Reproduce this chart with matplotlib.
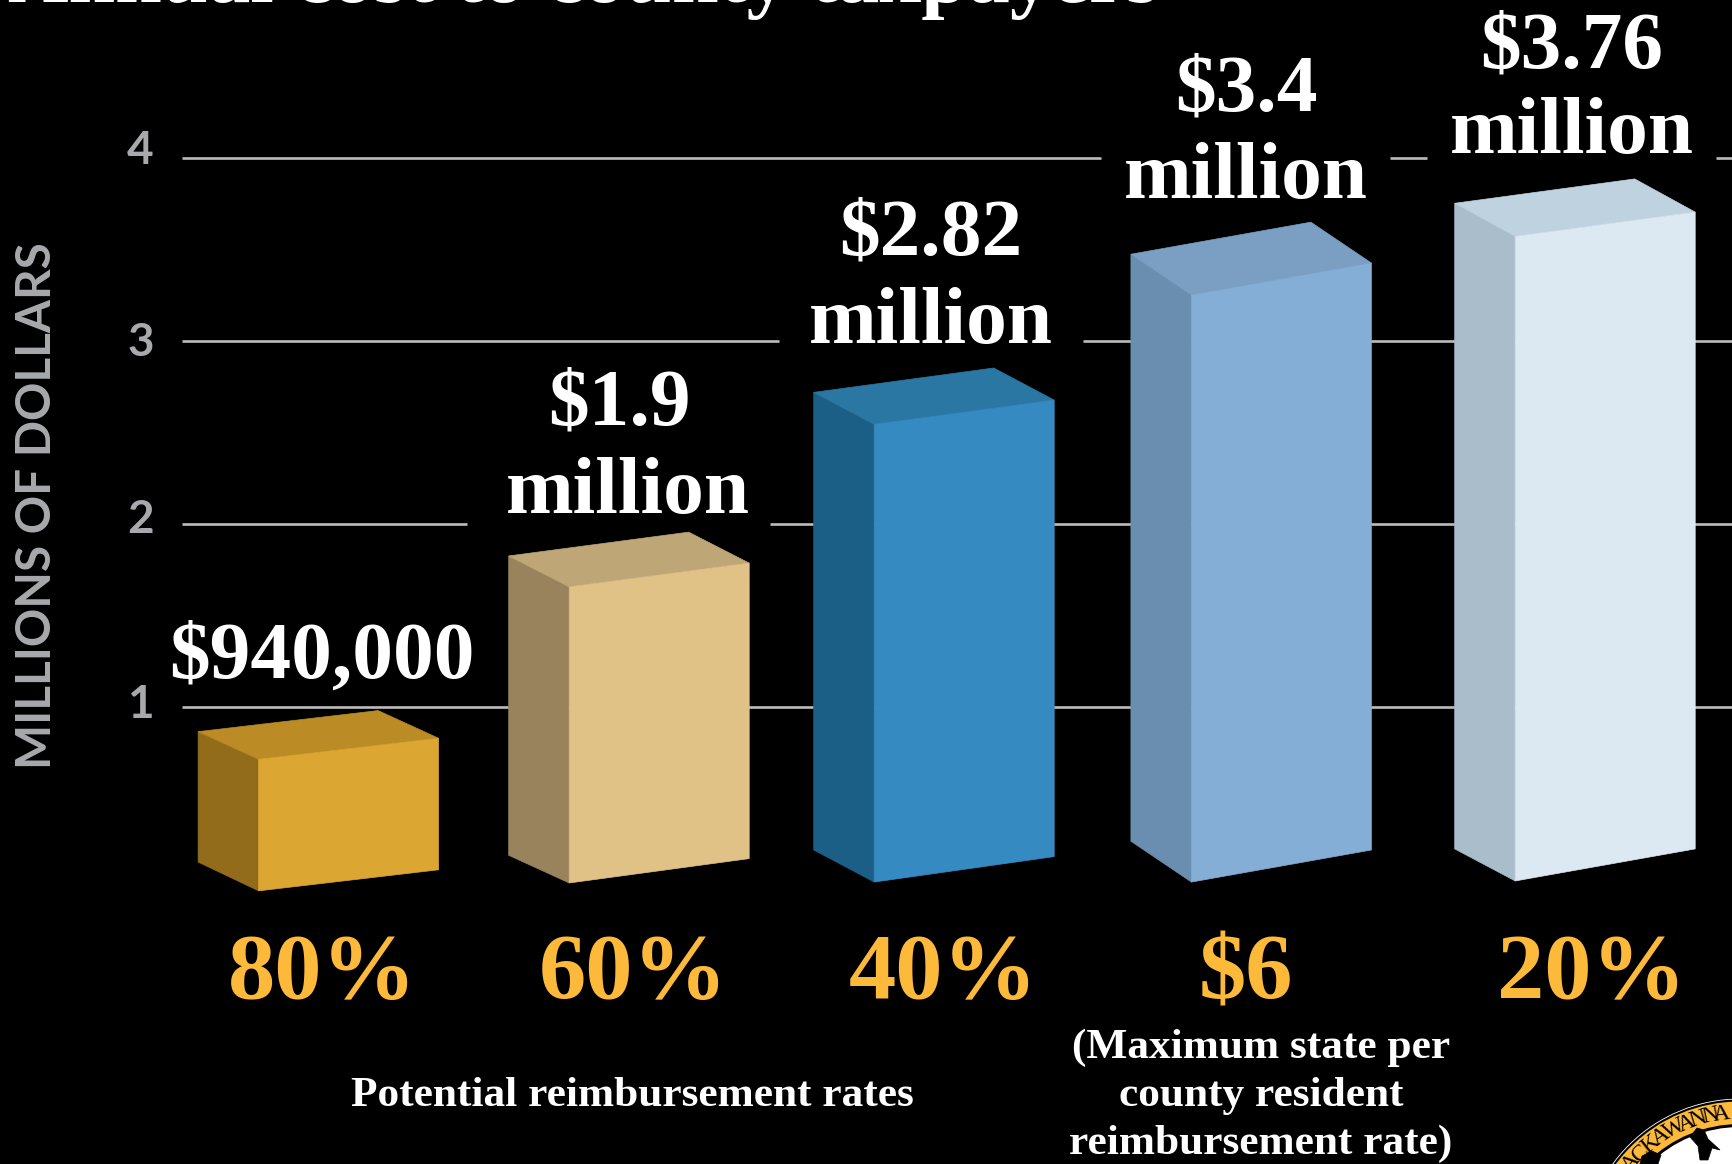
import matplotlib
matplotlib.use('Agg')
import matplotlib.pyplot as plt
import numpy as np
from matplotlib.patches import Circle, Polygon

W, H = 1733, 1164

# chart values
rates = ['80%', '60%', '40%', '$6', '20%']
amounts = ['$940,000', '$1.9', '$2.82', '$3.4', '$3.76']
bar_values = [0.94, 1.9, 2.82, 3.4, 3.76]
grid_values = [1, 2, 3, 4]

# the boxes are drawn in perspective, so their corners do not sit on the value.
front_top = [0.715, 1.656, 2.543, 3.249, 3.569]
front_base = [-0.003, 0.04, 0.045, 0.045, 0.051]
top_slant = [0.115, 0.13, 0.133, 0.175, 0.133]
base_slant = [0.115, 0.133, 0.139, 0.175, 0.175]
top_depth = [0.151, 0.169, 0.175, 0.223, 0.181]
base_depth = [0.157, 0.151, 0.175, 0.223, 0.175]

# colours: front, top, side
front_colors = ['#dca632', '#e0c287', '#358bc1', '#84aed5', '#dce8f2']
top_colors = ['#bb8c26', '#bea676', '#2b77a3', '#7a9fc3', '#bfd2e0']
side_colors = ['#926c1a', '#99835d', '#1b5f87', '#6a8eb0', '#a9bdca']

GOLD = '#fdb93a'
GREY = '#a8a9ad'
SERIF = 'Liberation Serif'

# y axis: 0 sits at pixel 890, one million is 183.2 pixels
PX = 183.2
y_top = 890.3 / PX
y_bottom = (890.3 - H) / PX

bar_x = [258.6, 569.2, 874.2, 1191.4, 1515.2]
bar_w = 180
bar_d = 60.5
amount_x = [322, 619, 931, 1246, 1572]
million_x = [None, 628, 931, 1246, 1572]
rate_x = [322, 633, 943, 1246, 1592]
amount_y = [1.16, 2.54, 3.47, 4.257, 4.49]
million_y = [None, 2.06, 2.99, 3.78, 4.026]
tick_lift = [0.012, 0.022, -0.012, 0.038]

fig = plt.figure(figsize=(W / 100, H / 100), dpi=100, facecolor='black')
ax = fig.add_axes([0, 0, 1, 1])
ax.set_facecolor('black')
ax.set_xlim(0, W)
ax.set_ylim(y_bottom, y_top)
ax.axis('off')

# grid lines stop short of the labels
grid_gaps = {1: [], 2: [(467, 770)], 3: [(779, 1083)], 4: [(1101, 1390), (1427, 1716)]}
for v, lift in zip(grid_values, tick_lift):
    start = 182
    for gap in grid_gaps[v]:
        ax.hlines(v, start, gap[0], color='#bcbcbc', lw=1.9, zorder=1)
        start = gap[1]
    ax.hlines(v, start, W, color='#bcbcbc', lw=1.9, zorder=1)
    ax.text(140.5, v + lift, str(v), color=GREY, fontsize=33, fontweight='bold',
            family='Lato', ha='center', va='center')

for i in range(len(rates)):
    x = bar_x[i]
    ft = front_top[i]
    fb = front_base[i]
    # left side
    side = [(x - bar_d, ft + top_depth[i]), (x, ft), (x, fb), (x - bar_d, fb + base_depth[i])]
    ax.add_patch(Polygon(side, closed=True, fc=side_colors[i], ec=side_colors[i], lw=0.5, zorder=2))
    # top
    top = [(x - bar_d, ft + top_depth[i]), (x - bar_d + bar_w, ft + top_depth[i] + top_slant[i]),
           (x + bar_w, ft + top_slant[i]), (x, ft)]
    ax.add_patch(Polygon(top, closed=True, fc=top_colors[i], ec=top_colors[i], lw=0.5, zorder=2))
    # front
    front = [(x, ft), (x + bar_w, ft + top_slant[i]), (x + bar_w, fb + base_slant[i]), (x, fb)]
    ax.add_patch(Polygon(front, closed=True, fc=front_colors[i], ec=front_colors[i], lw=0.5, zorder=3))

    ax.text(amount_x[i], amount_y[i], amounts[i], color='white', fontsize=58.6, fontweight='bold',
            family=SERIF, ha='center', va='baseline', zorder=5)
    if million_y[i] is not None:
        ax.text(million_x[i], million_y[i], 'million', color='white', fontsize=58.6, fontweight='bold',
                family=SERIF, ha='center', va='baseline', zorder=5)
    ax.text(rate_x[i], -0.59, rates[i], color=GOLD, fontsize=68, fontweight='bold',
            family=SERIF, ha='center', va='baseline', zorder=5)

ax.text(632, -1.18, 'Potential reimbursement rates', color='white', fontsize=31.2, fontweight='bold',
        family=SERIF, ha='center', va='baseline')
note_lines = ['(Maximum state per', 'county resident', 'reimbursement rate)']
note_y = [-0.915, -1.18, -1.44]
for line, ny in zip(note_lines, note_y):
    ax.text(1261, ny, line, color='white', fontsize=31.2, fontweight='bold',
            family=SERIF, ha='center', va='baseline')

fig.text(37 / W, 1 - 506 / H, 'MILLIONS OF DOLLARS', color=GREY, fontsize=34.3, fontweight='bold',
         family='Lato', rotation=90, ha='center', va='center')
fig.text(8 / W, 1 - 1.5 / H, 'Annual cost to county taxpayers', color='white', fontsize=60.3,
         fontweight='bold', family=SERIF, ha='left', va='baseline')

# county seal in the corner, in pixel coordinates
seal = fig.add_axes([0, 0, 1, 1])
seal.set_xlim(0, W)
seal.set_ylim(H, 0)
seal.axis('off')
seal.patch.set_alpha(0)
cx, cy, r = 1740, 1256, 157
seal.add_patch(Circle((cx, cy), r, fc='black', ec='white', lw=0.6))
seal.add_patch(Circle((cx, cy), r - 2.5, fc=GOLD, ec='none'))
seal.add_patch(Circle((cx, cy), r - 25, fc='black', ec='none'))
seal.add_patch(Circle((cx, cy), r - 28, fc='white', ec='none'))
letters = 'LACKAWANNA'
angles = [-55, -49.5, -44, -38.5, -33.5, -27.5, -22, -17, -12, -7.5]
for ch, a in zip(letters, angles):
    t = np.radians(a)
    seal.text(cx + (r - 14) * np.sin(t), cy - (r - 14) * np.cos(t), ch, color='black', fontsize=17,
              family=SERIF, ha='center', va='center', rotation=-a)
bird = [(1690, 1137), (1697, 1128), (1704, 1130), (1708, 1139), (1720, 1150), (1712, 1148),
        (1708, 1160), (1700, 1160), (1698, 1146)]
seal.add_patch(Polygon(bird, closed=True, fc='black', ec='black', lw=0.5))
seal.add_patch(Polygon([(1640, 1164), (1642, 1156), (1652, 1151), (1661, 1155), (1658, 1164)],
                       closed=True, fc='black', ec='black', lw=0.5))

fig.savefig('out.png', dpi=100, facecolor='black')
